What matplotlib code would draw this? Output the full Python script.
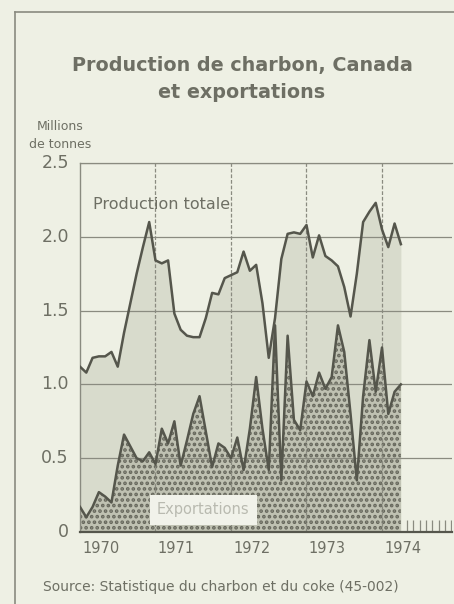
import matplotlib
matplotlib.use("Agg")
import matplotlib.pyplot as plt
import numpy as np
from matplotlib.lines import Line2D

# Monthly data, January 1970 onwards (millions of tonnes)
start_year = 1970
production = [1.12, 1.08, 1.18, 1.19, 1.19, 1.22, 1.12, 1.35, 1.55, 1.75, 1.93, 2.10,
              1.84, 1.82, 1.84, 1.48, 1.37, 1.33, 1.32, 1.32, 1.45, 1.62, 1.61, 1.72,
              1.74, 1.76, 1.90, 1.77, 1.81, 1.55, 1.18, 1.45, 1.85, 2.02, 2.03, 2.02,
              2.08, 1.86, 2.01, 1.87, 1.84, 1.80, 1.66, 1.46, 1.75, 2.10, 2.17, 2.23,
              2.05, 1.93, 2.09, 1.95]
exports = [0.17, 0.10, 0.17, 0.27, 0.24, 0.20, 0.45, 0.66, 0.58, 0.50, 0.48, 0.54,
           0.46, 0.70, 0.60, 0.75, 0.45, 0.62, 0.80, 0.92, 0.68, 0.44, 0.60, 0.57,
           0.50, 0.64, 0.42, 0.70, 1.05, 0.70, 0.42, 1.40, 0.35, 1.33, 0.76, 0.69,
           1.02, 0.92, 1.08, 0.97, 1.05, 1.40, 1.22, 0.80, 0.35, 0.92, 1.30, 0.95,
           1.25, 0.80, 0.95, 1.00]
year_labels = ["1970", "1971", "1972", "1973", "1974"]
y_ticks = [0, 0.5, 1.0, 1.5, 2.0, 2.5]
y_labels = ["0", "0.5", "1.0", "1.5", "2.0", "2.5"]

t = start_year + np.arange(len(production)) / 12.0

bg = "#eef0e4"
ink = "#55564c"
txt = "#6e6f64"
plt.rcParams["hatch.linewidth"] = 1.8

fig = plt.figure(figsize=(4.54, 6.04), dpi=100, facecolor=bg)
ax = fig.add_axes([80/454, 1-532/604, 372/454, 369/604], facecolor=bg)

ax.set_xlim(1970, 1970 + 372/75.5)
ax.set_ylim(0, 2.5)

# fills
ax.fill_between(t, 0, production, color="#d8dbcc", lw=0, zorder=1)
ax.fill_between(t, 0, exports, facecolor="#bfc1b2", edgecolor="#66675c",
                hatch="...", lw=0, zorder=2)

# grid lines
for yv in y_ticks[1:]:
    ax.axhline(yv, color="#8a8b80", lw=0.9, zorder=3)
for i in range(1, len(year_labels)):
    ax.axvline(start_year + i, color="#8a8b80", lw=0.9, ls=(0, (3, 1.5)), zorder=3)

ax.plot(t, production, color=ink, lw=1.8, zorder=5)
ax.plot(t, exports, color=ink, lw=1.8, zorder=5)

ax.set_xticks([])
ax.set_yticks([])
mt = start_year + np.arange(0, 60) / 12.0
ax.vlines(mt[mt > t[-1]], 0, 0.08, color="#8a8b80", lw=0.9, zorder=0.5)

ax.spines["right"].set_visible(False)
ax.spines["top"].set_color("#8a8b80")
ax.spines["top"].set_linewidth(0.9)
ax.spines["left"].set_color("#8a8b80")
ax.spines["left"].set_linewidth(1.0)
ax.spines["bottom"].set_color(ink)
ax.spines["bottom"].set_linewidth(1.6)
ax.spines["bottom"].set_zorder(6)

for yv, lab in zip(y_ticks, y_labels):
    ax.text(-0.03, yv, lab, transform=ax.get_yaxis_transform(), ha="right",
            va="center", fontsize=12.5, color=txt)
for i, lab in enumerate(year_labels):
    ax.text(start_year + i + 0.03, -0.06, lab, ha="left", va="top",
            fontsize=10.5, color=txt)

ax.text(1970.17, 2.22, "Production totale", fontsize=11.5, color=txt, va="center",
        zorder=7)
ax.text(1971.02, 0.15, "Exportations", fontsize=10.5, color="#b9bab0", va="center",
        zorder=7, bbox=dict(boxstyle="square,pad=0.5", fc="#f1f2ea", ec="none"))

fig.text(242/454, 1-65/604, "Production de charbon, Canada", ha="center",
         va="center", fontsize=13.8, fontweight="bold", color=txt)
fig.text(242/454, 1-92/604, "et exportations", ha="center", va="center",
         fontsize=13.8, fontweight="bold", color=txt)
fig.text(60/454, 1-126/604, "Millions", ha="center", va="center", fontsize=9,
         color=txt)
fig.text(60/454, 1-144/604, "de tonnes", ha="center", va="center", fontsize=9,
         color=txt)
fig.text(43/454, 1-587/604, "Source: Statistique du charbon et du coke (45-002)",
         ha="left", va="center", fontsize=10, color=txt)

# outer frame
fig.add_artist(Line2D([15/454, 15/454], [0, 1-12/604], transform=fig.transFigure,
                      color="#8a8b80", lw=1.2))
fig.add_artist(Line2D([15/454, 1], [1-12/604, 1-12/604], transform=fig.transFigure,
                      color="#8a8b80", lw=1.2))

fig.savefig("out.png", dpi=100, facecolor=bg)
